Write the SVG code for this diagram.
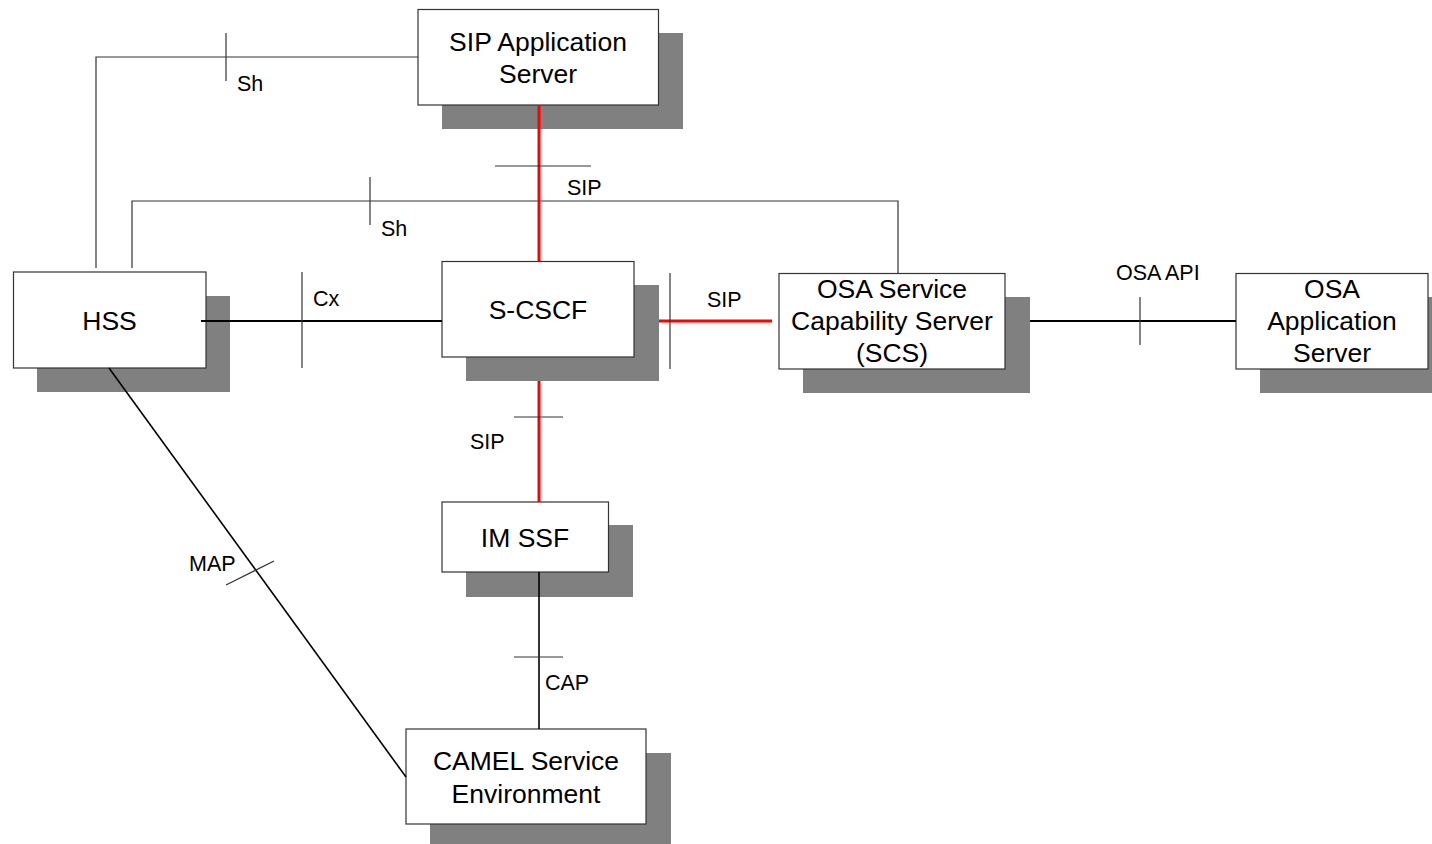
<svg xmlns="http://www.w3.org/2000/svg" width="1432" height="844" viewBox="0 0 1432 844">
<style>
.shadow{fill:#808080;stroke:none}
.box{fill:#ffffff;stroke:#333333;stroke-width:1.2}
.t{font-family:"Liberation Sans",Arial,sans-serif;font-size:26.5px;fill:#000;text-anchor:middle}
.lbl{font-family:"Liberation Sans",Arial,sans-serif;font-size:21.5px;fill:#000}
.thin{stroke:#333333;stroke-width:1.2;fill:none}
.blk{stroke:#000;stroke-width:2;fill:none}
.red{stroke:#ff0000;stroke-width:3;fill:none}
.tick{stroke:#333333;stroke-width:1.2;fill:none}
</style>
<rect width="1432" height="844" fill="#fff"/>
<g id="sip-as">
<rect class="shadow" x="442" y="33" width="241" height="96"/>
<rect class="box" x="418" y="9.5" width="240.5" height="95.5"/>
<text class="t" x="538" y="51">SIP Application</text>
<text class="t" x="538" y="83">Server</text>
</g>
<g id="hss">
<rect class="shadow" x="37" y="296" width="193" height="96"/>
<rect class="box" x="13.5" y="272" width="192.5" height="96"/>
<text class="t" x="109.5" y="330">HSS</text>
</g>
<g id="scscf">
<rect class="shadow" x="466" y="285" width="193" height="96"/>
<rect class="box" x="442" y="261.5" width="192" height="95.5"/>
<text class="t" x="538" y="319">S-CSCF</text>
</g>
<g id="osa-scs">
<rect class="shadow" x="803" y="297" width="227" height="96"/>
<rect class="box" x="779" y="273.5" width="226" height="95.5"/>
<text class="t" x="892" y="298">OSA Service</text>
<text class="t" x="892" y="330">Capability Server</text>
<text class="t" x="892" y="362">(SCS)</text>
</g>
<g id="osa-as">
<rect class="shadow" x="1260" y="297" width="192" height="96"/>
<rect class="box" x="1236" y="273.5" width="192" height="95.5"/>
<text class="t" x="1332" y="298">OSA</text>
<text class="t" x="1332" y="330">Application</text>
<text class="t" x="1332" y="362">Server</text>
</g>
<g id="im-ssf">
<rect class="shadow" x="466" y="525" width="167" height="72"/>
<rect class="box" x="442" y="502" width="166.5" height="70"/>
<text class="t" x="525" y="547">IM SSF</text>
</g>
<g id="camel">
<rect class="shadow" x="430" y="753" width="241" height="96"/>
<rect class="box" x="406" y="729" width="240" height="95"/>
<text class="t" x="526" y="770">CAMEL Service</text>
<text class="t" x="526" y="803">Environment</text>
</g>
<g id="connectors">
<polyline class="thin" points="96,268 96,57 418,57"/>
<line class="tick" x1="226" y1="33" x2="226" y2="81"/>
<text class="lbl" x="237" y="91">Sh</text>
<polyline class="thin" points="132,268 132,201 898,201 898,273"/>
<line class="tick" x1="370" y1="177" x2="370" y2="225"/>
<text class="lbl" x="381" y="236">Sh</text>
<line class="red" x1="539" y1="105" x2="539" y2="261"/>
<line class="tick" x1="495" y1="166" x2="591" y2="166"/>
<text class="lbl" x="567" y="195">SIP</text>
<line class="blk" x1="201" y1="321" x2="442" y2="321"/>
<line class="tick" x1="302" y1="272" x2="302" y2="368"/>
<text class="lbl" x="313" y="306">Cx</text>
<line class="red" x1="659" y1="321" x2="772" y2="321"/>
<line class="tick" x1="670" y1="273" x2="670" y2="369"/>
<text class="lbl" x="707" y="307">SIP</text>
<line class="blk" x1="1030" y1="321" x2="1236" y2="321"/>
<line class="tick" x1="1140" y1="297" x2="1140" y2="345"/>
<text class="lbl" x="1116" y="280">OSA API</text>
<line class="red" x1="539" y1="381" x2="539" y2="502"/>
<line class="tick" x1="514" y1="417" x2="563" y2="417"/>
<text class="lbl" x="470" y="449">SIP</text>
<line class="blk" x1="539" y1="572" x2="539" y2="729" style="stroke-width:1.6"/>
<line class="tick" x1="514" y1="657" x2="563" y2="657"/>
<text class="lbl" x="545" y="690">CAP</text>
<line class="blk" x1="109" y1="368" x2="406" y2="777" style="stroke-width:1.6"/>
<line class="tick" x1="226" y1="585" x2="274" y2="561"/>
<text class="lbl" x="189" y="571">MAP</text>
</g>
</svg>
